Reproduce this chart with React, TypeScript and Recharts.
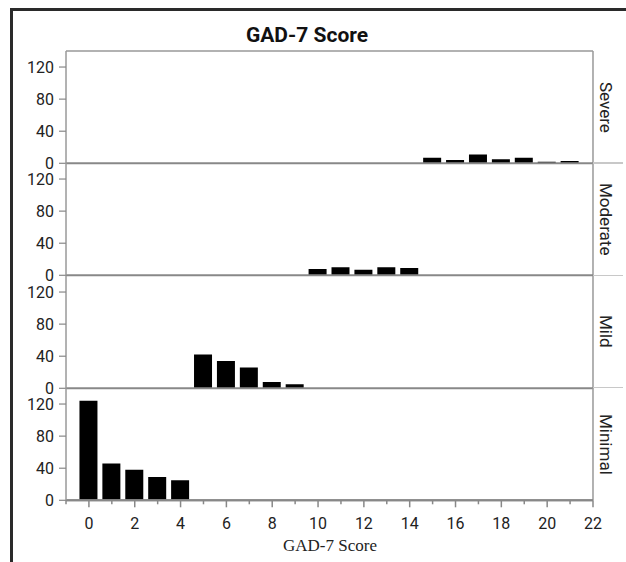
import React from 'react';
import { BarChart, Bar, XAxis, YAxis, ReferenceLine } from 'recharts';

const severeScores = [15, 16, 17, 18, 19, 20, 21];
const severeCounts = [7, 4, 11, 5, 7, 2, 3];
const moderateScores = [10, 11, 12, 13, 14];
const moderateCounts = [8, 10, 7, 10, 9];
const mildScores = [5, 6, 7, 8, 9];
const mildCounts = [42, 34, 26, 8, 5];
const minimalScores = [0, 1, 2, 3, 4];
const minimalCounts = [124, 46, 38, 29, 25];

const panelLabels = ['Severe', 'Moderate', 'Mild', 'Minimal'];
const yTicks = [0, 40, 80, 120];
const xTicks = [-1, 0, 1, 2, 3, 4, 5, 6, 7, 8, 9, 10, 11, 12, 13, 14, 15, 16, 17, 18, 19, 20, 21, 22];
const xDomain = [-1, 22];
const yDomain = [0, 140];
const chartTitle = 'GAD-7 Score';
const xAxisTitle = 'GAD-7 Score';

const toRows = (scores: number[], counts: number[]) =>
  scores.map((s, i) => ({ score: s, count: counts[i] }));

const panels = [
  toRows(severeScores, severeCounts),
  toRows(moderateScores, moderateCounts),
  toRows(mildScores, mildCounts),
  toRows(minimalScores, minimalCounts),
];

const W = 626;
const PLOT_LEFT = 66;
const PLOT_RIGHT = 593;
const TOP0 = 51;
const PANEL_H = 112.3;
const PAD = 2;
const BOTTOM_AXIS_H = 60;
const SPILL = 14;
const FONT = 'Roboto, "Noto Sans", sans-serif';
const TICK_FS = 16;

const XTick = (props: any) => {
  const { x, y, payload } = props;
  const v = payload.value;
  const major = v % 2 === 0 && v >= 0;
  return (
    <g>
      <line x1={x} x2={x} y1={y} y2={y + (major ? 7 : 4)} stroke="#888" strokeWidth={1.5} />
      {major && (
        <text x={x} y={y + 23} dy="0.35em" textAnchor="middle" fill="#222" fontSize={TICK_FS} fontFamily={FONT}>
          {v}
        </text>
      )}
    </g>
  );
};

function Panel({ data, index }: { data: any[]; index: number }) {
  const isBottom = index === panels.length - 1;
  const top = TOP0 + index * PANEL_H - PAD;
  const height = PANEL_H + PAD + (isBottom ? BOTTOM_AXIS_H : SPILL);
  return (
    <div style={{ position: 'absolute', left: 0, top }}>
      <BarChart
        width={W}
        height={height}
        data={data}
        margin={{ top: PAD, right: W - PLOT_RIGHT, bottom: isBottom ? 0 : SPILL, left: 0 }}
      >
        <XAxis
          dataKey="score"
          type="number"
          domain={xDomain}
          allowDataOverflow
          hide={!isBottom}
          ticks={xTicks}
          interval={0}
          height={BOTTOM_AXIS_H}
          tick={<XTick />}
          tickLine={false}
          tickSize={0}
          tickMargin={0}
          axisLine={{ stroke: '#888', strokeWidth: 2 }}
        />
        <YAxis
          type="number"
          domain={yDomain}
          allowDataOverflow
          ticks={yTicks}
          interval={0}
          width={PLOT_LEFT}
          tickSize={7}
          tickMargin={5}
          tickLine={{ stroke: '#888', strokeWidth: 1.2 }}
          axisLine={{ stroke: '#999', strokeWidth: 1.5 }}
          tick={{ fill: '#222', fontSize: TICK_FS, fontFamily: FONT }}
        />
        {index === 0 && <ReferenceLine y={yDomain[1]} stroke="#999" strokeWidth={1.5} />}
        <ReferenceLine x={xDomain[1]} stroke="#999" strokeWidth={1.5} />
        <Bar dataKey="count" fill="#000" barSize={18} isAnimationActive={false} />
        <ReferenceLine y={0} stroke="#888" strokeWidth={2} />
      </BarChart>
    </div>
  );
}

export default function App() {
  return (
    <div
      style={{
        position: 'absolute',
        left: 0,
        top: 0,
        width: W,
        height: 562,
        background: '#fff',
        overflow: 'hidden',
        fontFamily: FONT,
      }}
    >
      {/* outer frame */}
      <div style={{ position: 'absolute', left: 10, top: 8, width: 2.5, height: 554, background: '#2a2a2a' }} />
      <div style={{ position: 'absolute', left: 10, top: 8, width: 616, height: 2.5, background: '#2a2a2a' }} />

      <div
        style={{
          position: 'absolute',
          left: 0,
          width: 614,
          top: 22,
          lineHeight: '26px',
          textAlign: 'center',
          fontWeight: 700,
          fontSize: 21,
          color: '#111',
        }}
      >
        {chartTitle}
      </div>

      {panels.map((d, i) => (
        <Panel key={i} data={d} index={i} />
      ))}

      {/* separators extending beyond plot */}
      {[0, 1, 2].map((i) => (
        <div
          key={'sep' + i}
          style={{
            position: 'absolute',
            left: PLOT_RIGHT,
            top: TOP0 + (i + 1) * PANEL_H - 1,
            width: 30,
            height: 1.5,
            background: '#c8c8c8',
          }}
        />
      ))}

      {panelLabels.map((lab, i) => (
        <div
          key={lab}
          style={{
            position: 'absolute',
            left: 596,
            width: 20,
            top: TOP0 + i * PANEL_H,
            height: PANEL_H,
            display: 'flex',
            alignItems: 'center',
            justifyContent: 'center',
          }}
        >
          <span style={{ writingMode: 'vertical-rl', fontSize: 17, color: '#222', lineHeight: '20px' }}>{lab}</span>
        </div>
      ))}

      <div
        style={{
          position: 'absolute',
          left: 230,
          width: 200,
          top: 535,
          lineHeight: '22px',
          textAlign: 'center',
          fontFamily: '"Liberation Serif", "Times New Roman", serif',
          fontSize: 17,
          color: '#222',
        }}
      >
        {xAxisTitle}
      </div>
    </div>
  );
}
